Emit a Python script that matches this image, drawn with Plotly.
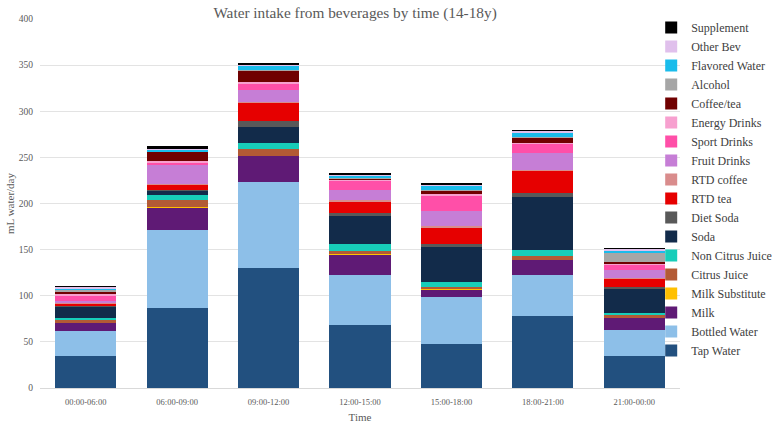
import plotly.graph_objects as go

times = ["00:00-06:00", "06:00-09:00", "09:00-12:00", "12:00-15:00",
         "15:00-18:00", "18:00-21:00", "21:00-00:00"]

tap_water = [35, 86.5, 130.5, 68, 47.5, 78, 35]
bottled_water = [27, 84.5, 92.5, 54, 51, 44, 28]
milk = [8.5, 24.5, 28.5, 23, 8.5, 17, 13.5]
milk_substitute = [0.5, 0.5, 0.5, 0.5, 0.3, 0.3, 0.3]
citrus_juice = [2.5, 7.5, 7.5, 3.5, 2.7, 3.5, 1.8]
non_citrus_juice = [2.5, 5.5, 6, 7, 4.5, 6.5, 2.9]
soda = [12, 4.7, 17.5, 30, 38.5, 58, 26.4]
diet_soda = [1, 0.7, 6, 3.5, 3.5, 4.3, 1.6]
rtd_tea = [3, 6, 20, 13, 18, 24, 8.7]
rtd_coffee = [0.8, 1, 1, 1, 1, 1, 0.8]
fruit_drinks = [2, 20.5, 13.4, 11.6, 16.3, 18, 8.7]
sport_drinks = [6, 3, 7.2, 10, 17.3, 10.5, 6]
energy_drinks = [2, 1.4, 1.2, 1, 1, 1, 1]
coffee_tea = [1.5, 9.8, 12.6, 1.5, 3.6, 5, 1.8]
alcohol = [3, 0.5, 0.5, 1, 0.5, 1, 9.8]
flavored_water = [1, 1.8, 4.3, 2, 5, 5, 2.9]
other_bev = [1.5, 0.6, 1.8, 1, 1.4, 1.5, 1.8]
supplement = [0.5, 2.9, 1, 1, 1, 1, 0.3]

series = [
    ("Tap Water", tap_water, "#22507F"),
    ("Bottled Water", bottled_water, "#8DBFE8"),
    ("Milk", milk, "#5F1A75"),
    ("Milk Substitute", milk_substitute, "#FFC000"),
    ("Citrus Juice", citrus_juice, "#B35A35"),
    ("Non Citrus Juice", non_citrus_juice, "#17CDB9"),
    ("Soda", soda, "#122B4A"),
    ("Diet Soda", diet_soda, "#595959"),
    ("RTD tea", rtd_tea, "#E60000"),
    ("RTD coffee", rtd_coffee, "#D98C8C"),
    ("Fruit Drinks", fruit_drinks, "#C67ED6"),
    ("Sport Drinks", sport_drinks, "#FF4FA8"),
    ("Energy Drinks", energy_drinks, "#F7A0CF"),
    ("Coffee/tea", coffee_tea, "#700000"),
    ("Alcohol", alcohol, "#A6A6A6"),
    ("Flavored Water", flavored_water, "#1ABCEB"),
    ("Other Bev", other_bev, "#E0C0EC"),
    ("Supplement", supplement, "#000000"),
]

FONT = "Liberation Serif"
GRAY = "#595959"

fig = go.Figure()
for name, vals, color in series:
    fig.add_trace(go.Bar(x=times, y=vals, name=name,
                         marker=dict(color=color, line=dict(width=0))))

fig.update_layout(
    barmode="stack",
    bargap=0.33,
    width=777, height=426,
    paper_bgcolor="white", plot_bgcolor="white",
    margin=dict(l=40, r=97, t=19, b=38, autoexpand=False),
    font=dict(family=FONT, color=GRAY),
    title=dict(text="Water intake from beverages by time (14-18y)",
               x=0.457, xanchor="center", y=0.97, yanchor="middle",
               font=dict(family=FONT, size=15.3, color=GRAY)),
    legend=dict(traceorder="reversed", x=0.955, xanchor="left",
                y=1.016, yanchor="top", maxheight=420,
                font=dict(family=FONT, size=12, color="#404040"),
                bgcolor="rgba(0,0,0,0)"),
    xaxis=dict(showline=True, linecolor="#D9D9D9", linewidth=1, automargin=False,
               ticklabelstandoff=6,
               tickfont=dict(family=FONT, size=8.5, color=GRAY),
               title=dict(text="Time", font=dict(family=FONT, size=11, color=GRAY),
                          standoff=7)),
    yaxis=dict(range=[0, 400], dtick=50, showgrid=True, gridcolor="#E3E3E3",
               zeroline=False, ticklabelstandoff=6, automargin=False,
               tickfont=dict(family=FONT, size=9.5, color=GRAY),
               title=dict(text="mL water/day", font=dict(family=FONT, size=11, color=GRAY),
                          standoff=1)),
)

fig.write_html("out.html", config={"displayModeBar": False},
               post_script="document.body.style.margin='0';document.body.style.padding='0';")
